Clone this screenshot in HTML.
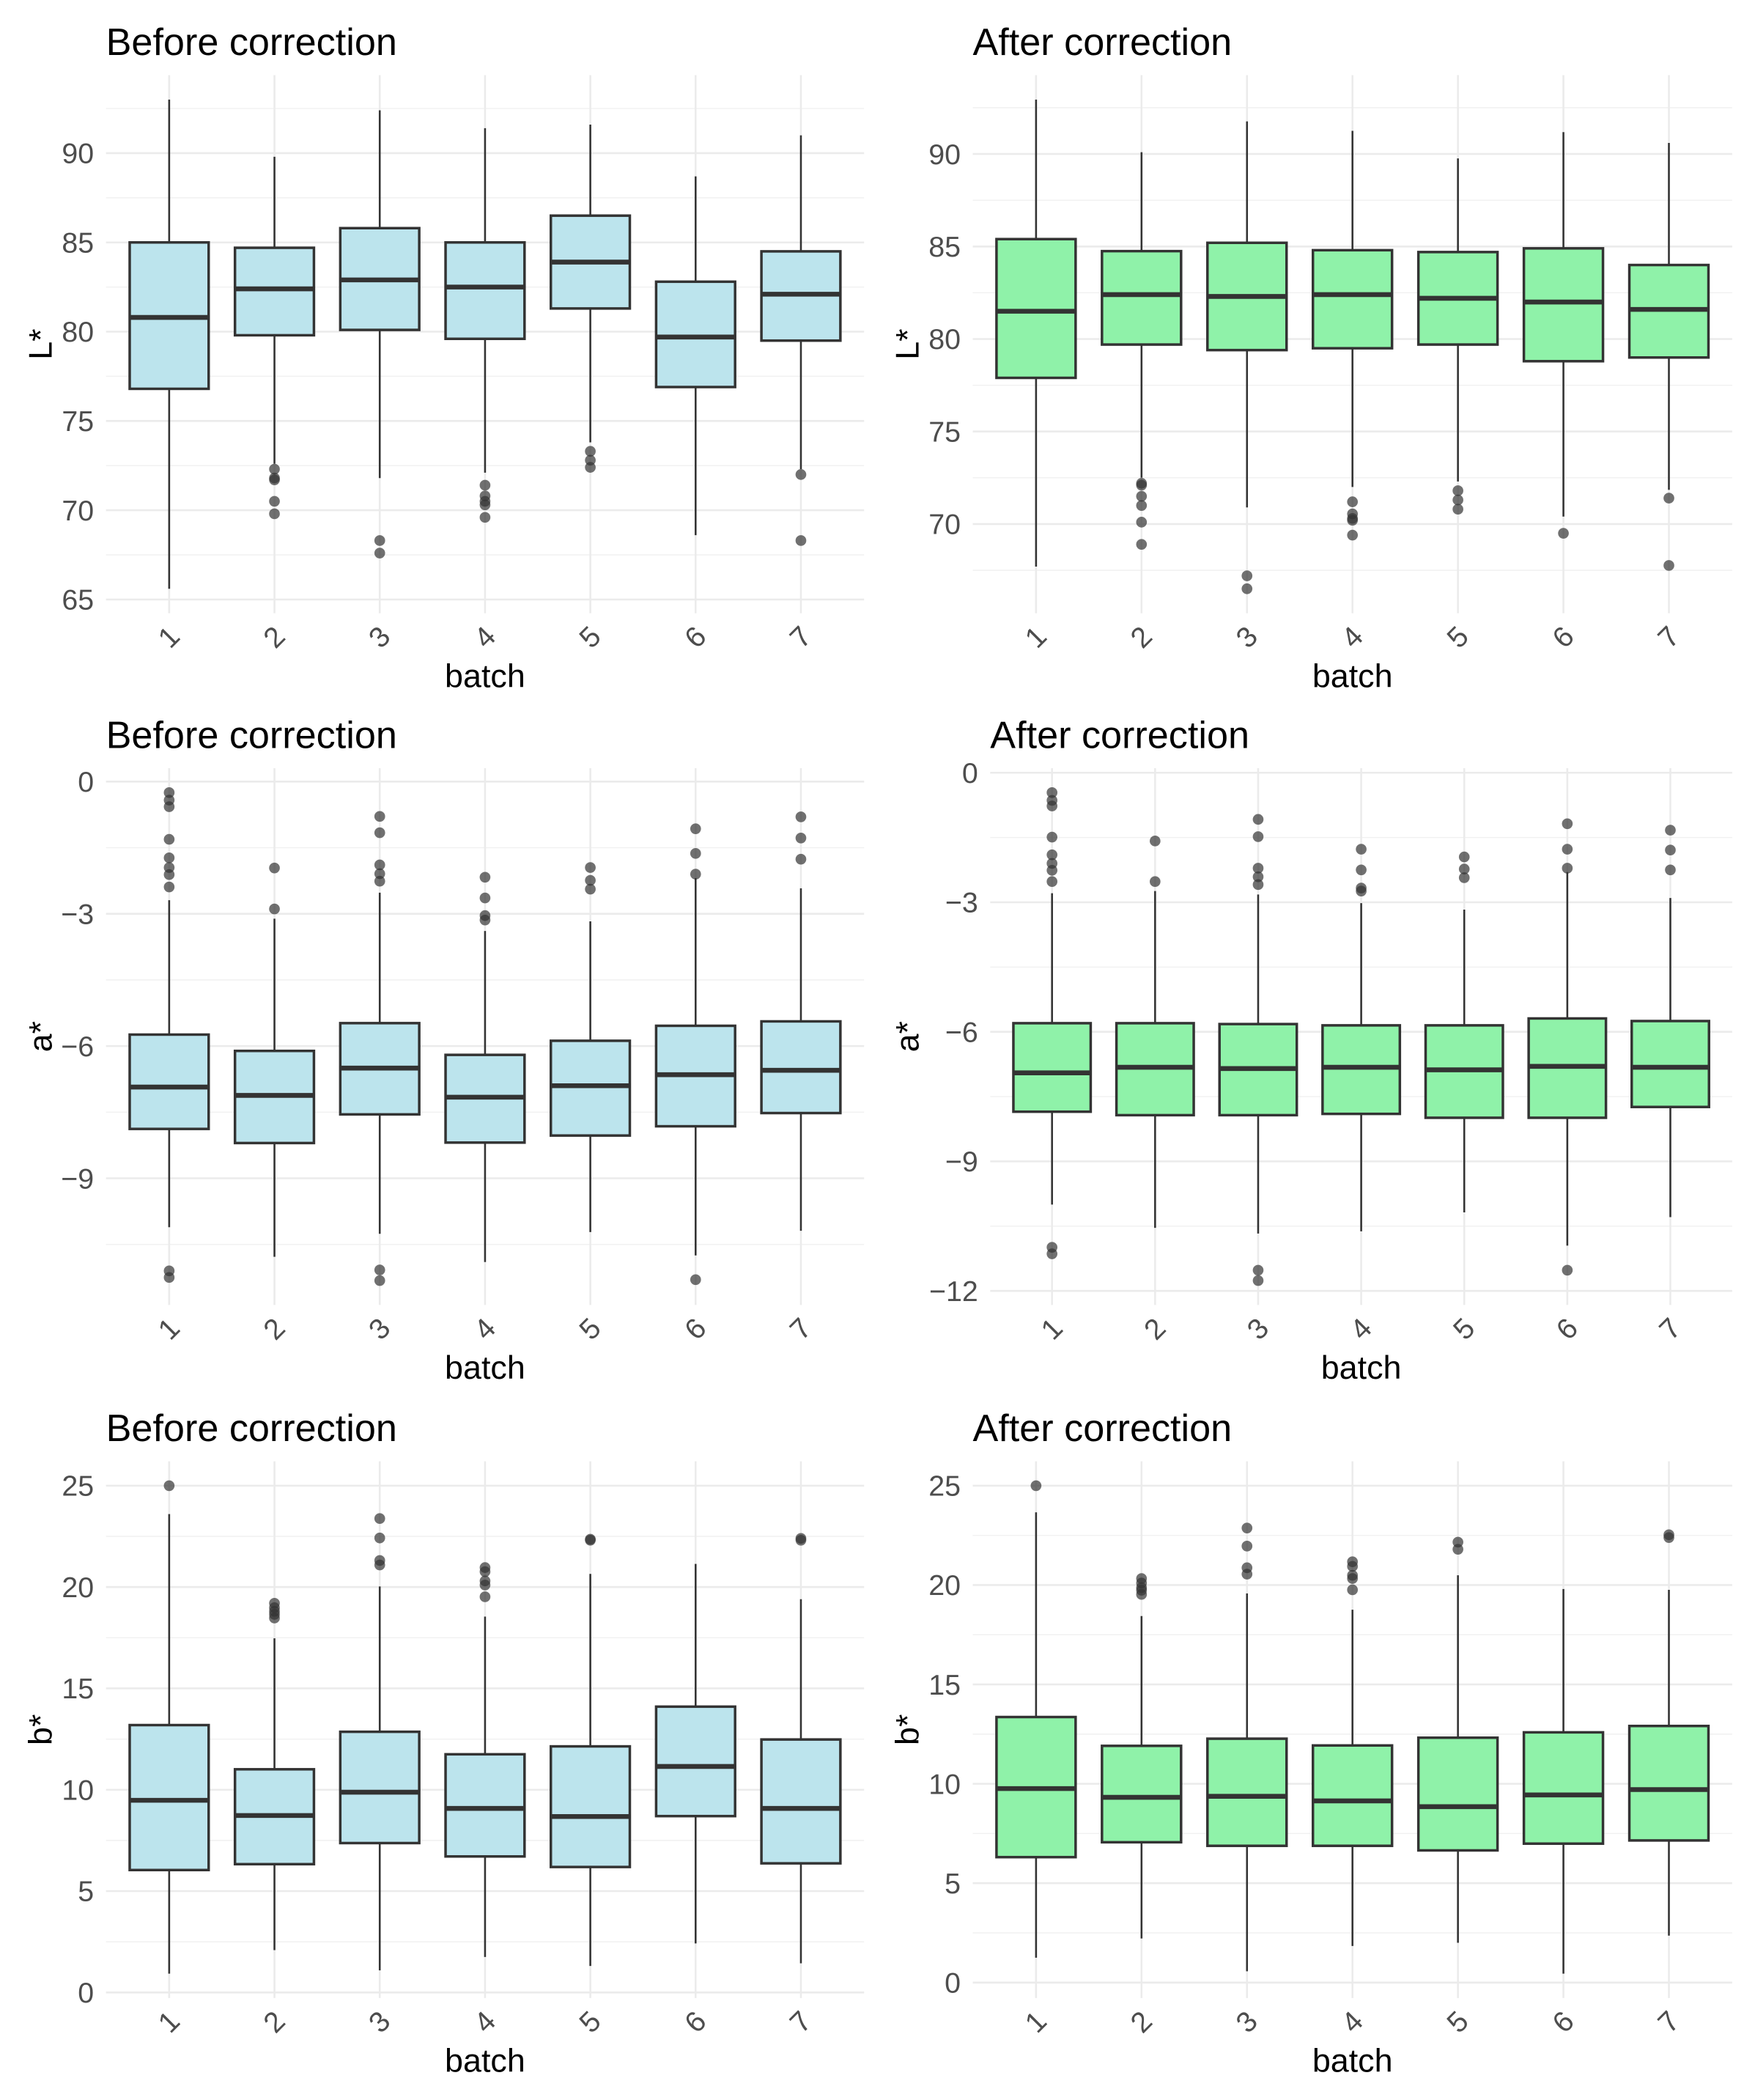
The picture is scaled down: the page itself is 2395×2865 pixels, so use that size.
<!DOCTYPE html>
<html><head><meta charset="utf-8"><title>Before/after correction boxplots</title>
<style>
html,body{margin:0;padding:0;background:#fff;}
svg{display:block;font-family:"Liberation Sans",Arial,sans-serif;}
</style></head>
<body>
<svg id="chart" xmlns="http://www.w3.org/2000/svg" width="2395" height="2865" viewBox="0 0 1308 1565" preserveAspectRatio="none">
<rect x="0" y="0" width="1308" height="1565" fill="#ffffff"></rect>
</svg>
<script>
const categories = ['1','2','3','4','5','6','7'];

// L* before
const LB_lo  = [65.6, 72.6, 71.8, 72.1, 73.8, 68.6, 72.3];
const LB_q1  = [76.8, 79.8, 80.1, 79.6, 81.3, 76.9, 79.5];
const LB_med = [80.8, 82.4, 82.9, 82.5, 83.9, 79.7, 82.1];
const LB_q3  = [85.0, 84.7, 85.8, 85.0, 86.5, 82.8, 84.5];
const LB_hi  = [93.0, 89.8, 92.4, 91.4, 91.6, 88.7, 91.0];
const LB_out = [[], [72.3,71.8,71.7,70.5,69.8], [68.3,67.6], [71.4,70.8,70.5,70.3,69.6], [73.3,72.8,72.4], [], [72.0,68.3]];
const LB_ticks = [65,70,75,80,85,90];

// L* after
const LA_lo  = [67.7, 72.5, 70.9, 72.0, 72.3, 70.4, 71.85];
const LA_q1  = [77.9, 79.7, 79.4, 79.5, 79.7, 78.8, 79.0];
const LA_med = [81.5, 82.4, 82.3, 82.4, 82.2, 82.0, 81.6];
const LA_q3  = [85.4, 84.75, 85.2, 84.8, 84.7, 84.9, 84.0];
const LA_hi  = [92.94, 90.1, 91.76, 91.25, 89.76, 91.18, 90.6];
const LA_out = [[], [72.2,72.1,71.5,71.0,70.1,68.9], [67.2,66.5], [71.2,70.55,70.3,70.2,69.4], [71.8,71.3,70.8], [69.5], [71.4,67.76]];
const LA_ticks = [70,75,80,85,90];

// a* before
const AB_lo  = [-10.11, -10.78, -10.26, -10.9, -10.22, -10.75, -10.19];
const AB_q1  = [-7.88, -8.2, -7.55, -8.19, -8.03, -7.82, -7.52];
const AB_med = [-6.93, -7.12, -6.5, -7.16, -6.9, -6.65, -6.55];
const AB_q3  = [-5.74, -6.11, -5.48, -6.2, -5.88, -5.54, -5.44];
const AB_hi  = [-2.69, -3.11, -2.52, -3.39, -3.17, -2.19, -2.42];
const AB_out = [[-0.25,-0.42,-0.57,-1.31,-1.73,-1.95,-2.11,-2.39,-11.1,-11.25], [-1.96,-2.89], [-0.79,-1.16,-1.89,-2.09,-2.26,-11.08,-11.32], [-2.17,-2.64,-3.04,-3.14], [-1.95,-2.24,-2.44], [-1.07,-1.63,-2.1,-11.3], [-0.8,-1.28,-1.76]];
const AB_ticks = [-9,-6,-3,0];

// a* after
const AA_lo  = [-10.0, -10.54, -10.67, -10.62, -10.18, -10.95, -10.29];
const AA_q1  = [-7.85, -7.93, -7.93, -7.9, -7.99, -7.99, -7.74];
const AA_med = [-6.95, -6.82, -6.85, -6.82, -6.88, -6.8, -6.82];
const AA_q3  = [-5.8, -5.8, -5.82, -5.85, -5.85, -5.69, -5.75];
const AA_hi  = [-2.79, -2.74, -2.82, -3.02, -3.17, -2.3, -2.9];
const AA_out = [[-0.46,-0.64,-0.77,-1.49,-1.9,-2.1,-2.26,-2.52,-10.99,-11.14], [-1.58,-2.52], [-1.08,-1.48,-2.21,-2.41,-2.59,-11.52,-11.76], [-1.77,-2.25,-2.67,-2.74], [-1.95,-2.23,-2.43], [-1.18,-1.77,-2.21,-11.52], [-1.33,-1.79,-2.25]];
const AA_ticks = [-12,-9,-6,-3,0];

// b* before
const BB_lo  = [0.93, 2.09, 1.09, 1.75, 1.31, 2.42, 1.44];
const BB_q1  = [6.04, 6.33, 7.37, 6.71, 6.19, 8.7, 6.37];
const BB_med = [9.48, 8.73, 9.88, 9.08, 8.68, 11.15, 9.08];
const BB_q3  = [13.19, 11.01, 12.86, 11.75, 12.14, 14.1, 12.48];
const BB_hi  = [23.6, 17.47, 20.03, 18.54, 20.65, 21.14, 19.4];
const BB_out = [[25.0], [19.2,18.98,18.8,18.65,18.47], [23.38,22.42,21.31,21.09], [20.96,20.76,20.3,20.1,19.52], [22.31,22.36], [], [22.4,22.31]];
const BB_ticks = [0,5,10,15,20,25];

// b* after
const BA_lo  = [1.25, 2.22, 0.57, 1.84, 2.0, 0.45, 2.36];
const BA_q1  = [6.31, 7.06, 6.88, 6.88, 6.65, 6.99, 7.15];
const BA_med = [9.76, 9.32, 9.37, 9.14, 8.85, 9.44, 9.71];
const BA_q3  = [13.36, 11.91, 12.27, 11.93, 12.32, 12.59, 12.91];
const BA_hi  = [23.66, 18.44, 19.58, 18.76, 20.49, 19.8, 19.76];
const BA_out = [[25.0], [20.33,20.1,19.87,19.74,19.53], [22.87,21.96,20.87,20.55], [21.17,20.94,20.49,20.33,19.76], [22.16,21.8], [], [22.53,22.39]];
const BA_ticks = [0,5,10,15,20,25];

const NS = 'http://www.w3.org/2000/svg';
const svg = document.getElementById('chart');
function mk(tag, attrs, parent){
  const e = document.createElementNS(NS, tag);
  for (const k in attrs) e.setAttribute(k, attrs[k]);
  (parent||svg).appendChild(e);
  return e;
}
function fmt(v){ return v < 0 ? '\u2212' + Math.abs(v) : String(v); }

const BLUE = '#bce4ed', GREEN = '#8ff2a9';
const panels = [
  {key:'l-before', title:'Before correction', ylab:'L*', fill:BLUE,  x0:79,  x1:644,  top:56,    bot:457,
   lo:LB_lo,q1:LB_q1,med:LB_med,q3:LB_q3,hi:LB_hi,out:LB_out,ticks:LB_ticks, ytx:30},
  {key:'l-after',  title:'After correction',  ylab:'L*', fill:GREEN, x0:725, x1:1291, top:56,    bot:457,
   lo:LA_lo,q1:LA_q1,med:LA_med,q3:LA_q3,hi:LA_hi,out:LA_out,ticks:LA_ticks, ytx:676},
  {key:'a-before', title:'Before correction', ylab:'a*', fill:BLUE,  x0:79,  x1:644,  top:572.5, bot:972.5,
   lo:AB_lo,q1:AB_q1,med:AB_med,q3:AB_q3,hi:AB_hi,out:AB_out,ticks:AB_ticks, ytx:30},
  {key:'a-after',  title:'After correction',  ylab:'a*', fill:GREEN, x0:738, x1:1291, top:572.5, bot:972.5,
   lo:AA_lo,q1:AA_q1,med:AA_med,q3:AA_q3,hi:AA_hi,out:AA_out,ticks:AA_ticks, ytx:676},
  {key:'b-before', title:'Before correction', ylab:'b*', fill:BLUE,  x0:79,  x1:644,  top:1089,  bot:1489,
   lo:BB_lo,q1:BB_q1,med:BB_med,q3:BB_q3,hi:BB_hi,out:BB_out,ticks:BB_ticks, ytx:30},
  {key:'b-after',  title:'After correction',  ylab:'b*', fill:GREEN, x0:725, x1:1291, top:1089,  bot:1489,
   lo:BA_lo,q1:BA_q1,med:BA_med,q3:BA_q3,hi:BA_hi,out:BA_out,ticks:BA_ticks, ytx:676}
];

panels.forEach(function(p){
  const g = mk('g', {});
  
  
  let mn = Infinity, mx = -Infinity;
  for (let i=0;i<categories.length;i++){
    mn = Math.min(mn, p.lo[i], ...p.out[i]);
    mx = Math.max(mx, p.hi[i], ...p.out[i]);
  }
  const pad = (mx - mn) * 0.05;
  const dmin = mn - pad, dmax = mx + pad;
  const y = v => p.bot - (v - dmin) / (dmax - dmin) * (p.bot - p.top);
  const step = (p.x1 - p.x0) / (categories.length + 0.2);
  const x = i => p.x0 + (i + 0.6) * step;

  const tstep = p.ticks[1] - p.ticks[0];
  const minors = [];
  for (let v = p.ticks[0] - tstep/2; v <= p.ticks[p.ticks.length-1] + tstep/2 + 1e-9; v += tstep){
    if (v >= dmin && v <= dmax) minors.push(v);
  }
  minors.forEach(function(v){
    const l = mk('line', {x1:p.x0, x2:p.x1, y1:y(v), y2:y(v), stroke:'#f1f1f1', 'stroke-width':0.8}, g);
    
    
  });
  p.ticks.forEach(function(v){
    const l = mk('line', {x1:p.x0, x2:p.x1, y1:y(v), y2:y(v), stroke:'#ebebeb', 'stroke-width':1.4}, g);
    
    
    const t = mk('text', {x:p.x0 - 9, y:y(v) + 7.5, 'text-anchor':'end', 'font-size':21.5, fill:'#4d4d4d'}, g);
    t.textContent = fmt(v);
    
    
  });
  categories.forEach(function(c, i){
    const l = mk('line', {x1:x(i), x2:x(i), y1:p.top, y2:p.bot, stroke:'#ebebeb', 'stroke-width':1.4}, g);
    
    
    const tx = x(i), ty = p.bot + 25;
    const t = mk('text', {x:tx, y:ty, 'text-anchor':'middle', 'font-size':21.5, fill:'#4d4d4d', transform:'rotate(-45 ' + tx + ' ' + (ty-7) + ')'}, g);
    t.textContent = c;
    
    
  });

  const bw = step * 0.75;
  categories.forEach(function(c, i){
    const bg = mk('g', {}, g);
    
    
    const w1 = mk('line', {x1:x(i), x2:x(i), y1:y(p.hi[i]), y2:y(p.q3[i]), stroke:'#333333', 'stroke-width':1.4}, bg);
    
    
    const w2 = mk('line', {x1:x(i), x2:x(i), y1:y(p.q1[i]), y2:y(p.lo[i]), stroke:'#333333', 'stroke-width':1.4}, bg);
    
    
    const r = mk('rect', {x:x(i)-bw/2, y:y(p.q3[i]), width:bw, height:y(p.q1[i]) - y(p.q3[i]), fill:p.fill, stroke:'#333333', 'stroke-width':1.9}, bg);
    
    
    const m = mk('line', {x1:x(i)-bw/2, x2:x(i)+bw/2, y1:y(p.med[i]), y2:y(p.med[i]), stroke:'#333333', 'stroke-width':3.6}, bg);
    
    
    p.out[i].forEach(function(v){
      const o = mk('circle', {cx:x(i), cy:y(v), r:4, fill:'#333333', 'fill-opacity':0.7}, bg);
      
      
    });
  });

  const tt = mk('text', {x:p.x0, y:p.top - 15, 'font-size':28.5, fill:'#000000'}, g);
  tt.textContent = p.title;
  
  
  const xt = mk('text', {x:(p.x0+p.x1)/2, y:p.bot + 55, 'text-anchor':'middle', 'font-size':24.5, fill:'#000000'}, g);
  xt.textContent = 'batch';
  
  
  const yc = (p.top + p.bot) / 2;
  const yt = mk('text', {x:p.ytx, y:yc, 'text-anchor':'middle', 'font-size':24.5, fill:'#000000', transform:'rotate(-90 ' + p.ytx + ' ' + yc + ')', dy:'0.35em'}, g);
  yt.textContent = p.ylab;
  
  
});
</script>
</body></html>
